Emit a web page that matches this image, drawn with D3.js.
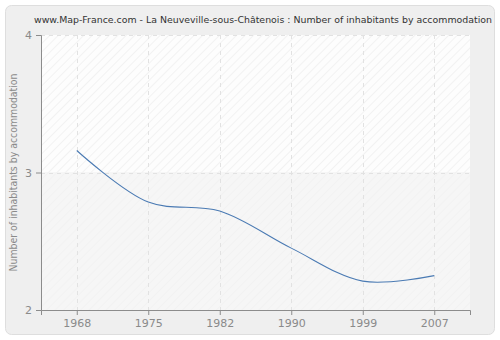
<!DOCTYPE html>
<html>
<head>
<meta charset="utf-8">
<script src="https://cdn.jsdelivr.net/npm/d3@7"></script>
<style>
  html, body { margin: 0; padding: 0; background: #ffffff; }
  svg { display: block; }
  text { font-family: "DejaVu Sans", Verdana, sans-serif; }
</style>
</head>
<body>
<svg id="chart" width="500" height="340"></svg>
<script>
// Census years and average household size
const years = ["1968", "1975", "1982", "1990", "1999", "2007"];
const inhabitantsPerHome = [3.16, 2.785, 2.72, 2.45, 2.21, 2.25];
const yTicks = [2, 3, 4];

const title = "www.Map-France.com - La Neuveville-sous-Châtenois : Number of inhabitants by accommodation";
const yTitle = "Number of inhabitants by accommodation";

const svg = d3.select("#chart");
const W = 500, H = 340;
const margin = { left: 41, right: 30, top: 35, bottom: 30 };
const plotW = W - margin.left - margin.right;
const plotH = H - margin.top - margin.bottom;

// Outer panel
svg.append("rect")
  .attr("x", 5.5).attr("y", 5.5)
  .attr("width", W - 11).attr("height", H - 11)
  .attr("rx", 6).attr("ry", 6)
  .attr("fill", "#efefef")
  .attr("stroke", "#dedede");

// Hatch patterns for the plot background
const defs = svg.append("defs");
const pat = defs.append("pattern")
  .attr("id", "hatch")
  .attr("patternUnits", "userSpaceOnUse")
  .attr("width", 6).attr("height", 6)
  .attr("patternTransform", "rotate(45)");
pat.append("rect").attr("width", 6).attr("height", 6).attr("fill", "#fdfdfd");
pat.append("line").attr("x1", 0).attr("y1", 0).attr("x2", 0).attr("y2", 6)
  .attr("stroke", "#ebebeb").attr("stroke-width", 1.2);

const pat2 = defs.append("pattern")
  .attr("id", "hatch2")
  .attr("patternUnits", "userSpaceOnUse")
  .attr("width", 6).attr("height", 6)
  .attr("patternTransform", "rotate(45)");
pat2.append("rect").attr("width", 6).attr("height", 6).attr("fill", "#f6f6f6");
pat2.append("line").attr("x1", 0).attr("y1", 0).attr("x2", 0).attr("y2", 6)
  .attr("stroke", "#f0f0f0").attr("stroke-width", 1.2);

const g = svg.append("g").attr("transform", `translate(${margin.left},${margin.top})`);

const x = d3.scalePoint().domain(years).range([0, plotW]).padding(0.5);
const y = d3.scaleLinear().domain([2, 4]).range([plotH, 0]);

// Plot background: hatched bands
g.append("rect")
  .attr("x", 0).attr("y", y(4))
  .attr("width", plotW).attr("height", y(3) - y(4))
  .attr("fill", "url(#hatch)");
g.append("rect")
  .attr("x", 0).attr("y", y(3))
  .attr("width", plotW).attr("height", y(2) - y(3))
  .attr("fill", "url(#hatch2)");

// Grid lines
g.selectAll(".vgrid").data(years).enter().append("line")
  .attr("x1", d => Math.round(x(d)) + 0.5).attr("x2", d => Math.round(x(d)) + 0.5)
  .attr("y1", 0).attr("y2", plotH)
  .attr("stroke", "#e2e2e2").attr("stroke-dasharray", "4,4");
g.selectAll(".hgrid").data(yTicks).enter().append("line")
  .attr("x1", 0).attr("x2", plotW)
  .attr("y1", d => Math.round(y(d)) + 0.5).attr("y2", d => Math.round(y(d)) + 0.5)
  .attr("stroke", "#e2e2e2").attr("stroke-dasharray", "4,4");

// Axes
const xAxis = g.append("g")
  .attr("transform", `translate(0,${plotH})`)
  .call(d3.axisBottom(x).tickSize(5).tickPadding(4));
const yAxis = g.append("g")
  .call(d3.axisLeft(y).tickValues(yTicks).tickFormat(d3.format("d")).tickSize(5).tickPadding(4));

[xAxis, yAxis].forEach(ax => {
  ax.select(".domain").attr("stroke", "#8c8c8c");
  ax.selectAll(".tick line").attr("stroke", "#8c8c8c");
  ax.selectAll(".tick text").attr("fill", "#8a8a8a").attr("font-size", 11)
    .attr("font-family", "DejaVu Sans, Verdana, sans-serif");
});

// Data line
const line = d3.line()
  .x((d, i) => x(years[i]))
  .y(d => y(d))
  .curve(d3.curveCatmullRom.alpha(0.5));
g.append("path")
  .datum(inhabitantsPerHome)
  .attr("d", line)
  .attr("fill", "none")
  .attr("stroke", "#4a7ab3")
  .attr("stroke-width", 1.1);

// Titles
svg.append("text")
  .attr("x", 34).attr("y", 23)
  .attr("font-size", 9.4).attr("fill", "#333")
  .attr("textLength", 458).attr("lengthAdjust", "spacingAndGlyphs")
  .text(title);

svg.append("text")
  .attr("transform", `translate(17,${margin.top + plotH / 2}) rotate(-90)`)
  .attr("text-anchor", "middle")
  .attr("font-size", 11).attr("fill", "#8a8a8a")
  .attr("textLength", 198).attr("lengthAdjust", "spacingAndGlyphs")
  .text(yTitle);
</script>
</body>
</html>
